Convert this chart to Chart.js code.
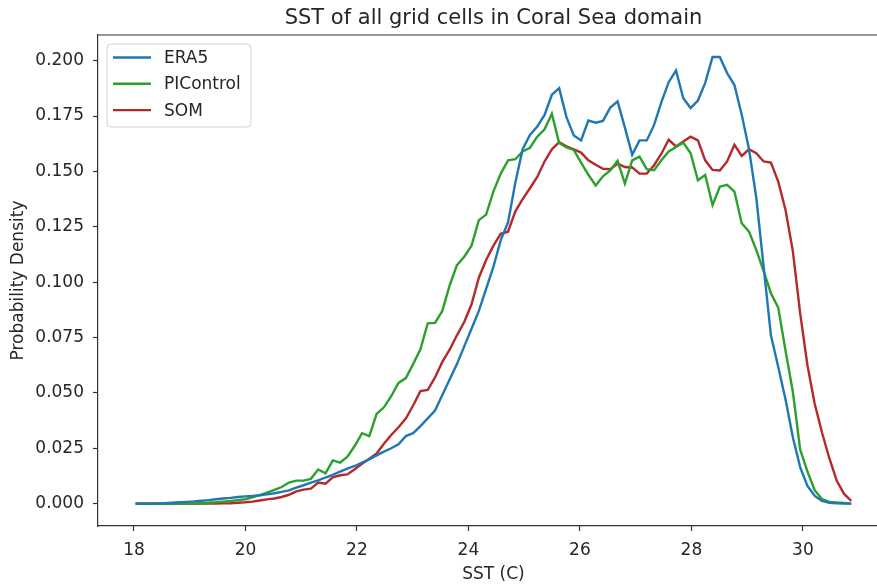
<!DOCTYPE html>
<html><head><meta charset="utf-8">
<script src="https://cdn.jsdelivr.net/npm/chart.js@4.4.1/dist/chart.umd.min.js"></script>
<style>
html,body{margin:0;padding:0;overflow:hidden;background:#fff;width:877px;height:585px}
#wrap{position:absolute;left:0;top:0;width:900px;height:585px}
</style>
</head><body><div id="wrap"><canvas id="c" width="900" height="585"></canvas></div>
<script>
// ---- data ----
const titleText = 'SST of all grid cells in Coral Sea domain';
const xTitle = 'SST (C)';
const yTitle = 'Probability Density';
const seriesNames = ['ERA5', 'PIControl', 'SOM'];
const xTicks = [18, 20, 22, 24, 26, 28, 30];
const yTicks = [0, 0.025, 0.05, 0.075, 0.1, 0.125, 0.15, 0.175, 0.2];

const sst = [18.030,18.161,18.292,18.423,18.554,18.685,18.816,18.947,19.078,19.209,
19.340,19.471,19.602,19.733,19.864,19.995,20.126,20.257,20.388,20.519,
20.650,20.781,20.912,21.043,21.174,21.305,21.436,21.567,21.698,21.829,
21.960,22.091,22.222,22.353,22.484,22.615,22.746,22.877,23.008,23.139,
23.270,23.401,23.532,23.663,23.794,23.925,24.056,24.187,24.318,24.449,
24.580,24.711,24.842,24.973,25.104,25.235,25.366,25.497,25.628,25.759,
25.890,26.021,26.152,26.283,26.414,26.545,26.676,26.807,26.938,27.069,
27.200,27.331,27.462,27.593,27.724,27.855,27.986,28.117,28.248,28.379,
28.510,28.641,28.772,28.903,29.034,29.165,29.296,29.427,29.558,29.689,
29.820,29.951,30.082,30.213,30.344,30.475,30.606,30.737,30.868];

const era5 = [0,0,0,0.0001,0.0002,0.0004,0.0006,0.0008,0.001,0.0013,
0.0016,0.002,0.0023,0.0026,0.003,0.0033,0.0035,0.0038,0.0042,0.0047,
0.0053,0.006,0.0072,0.0083,0.0095,0.0105,0.0118,0.013,0.0145,0.0158,
0.017,0.0185,0.02,0.0218,0.0235,0.025,0.0268,0.0305,0.0318,0.035,
0.0385,0.042,0.049,0.056,0.063,0.071,0.079,0.087,0.097,0.107,
0.119,0.127,0.145,0.16,0.1665,0.1703,0.1755,0.1846,0.1876,0.1745,
0.1662,0.164,0.173,0.172,0.1728,0.1788,0.1816,0.1698,0.1575,0.164,
0.164,0.171,0.1813,0.1903,0.1956,0.183,0.1786,0.182,0.19,0.2017,
0.2017,0.1944,0.189,0.1756,0.16,0.138,0.107,0.076,0.0617,0.047,
0.03,0.0165,0.008,0.0035,0.0012,0.0004,0.0001,0,0];

const piControl = [0,0,0,0,0,0,0,0,0,0.0002,
0.0004,0.0006,0.0009,0.0012,0.0016,0.002,0.0028,0.0038,0.005,0.0062,
0.0075,0.0095,0.0104,0.0104,0.0112,0.0154,0.0137,0.0195,0.0185,0.0212,
0.026,0.0318,0.0305,0.0405,0.0435,0.0485,0.0545,0.0567,0.063,0.0697,
0.0814,0.0816,0.087,0.0985,0.1077,0.1115,0.1165,0.128,0.1305,0.141,
0.149,0.155,0.1555,0.159,0.1607,0.1657,0.169,0.176,0.1628,0.1608,
0.1597,0.154,0.1485,0.1437,0.1478,0.1505,0.1548,0.1445,0.155,0.1567,
0.151,0.1505,0.155,0.159,0.161,0.163,0.1582,0.146,0.1484,0.1348,
0.1431,0.1439,0.1409,0.1266,0.1228,0.1145,0.105,0.095,0.0885,0.069,
0.0505,0.0245,0.0145,0.006,0.002,0.0008,0.0005,0.0003,0];

const som = [0,0,0,0,0,0,0,0,0,0,
0,0,0.0001,0.0002,0.0004,0.0006,0.0009,0.0014,0.0019,0.0023,
0.003,0.004,0.0055,0.0063,0.0068,0.0095,0.009,0.0119,0.0128,0.0132,
0.0155,0.018,0.0203,0.0226,0.027,0.031,0.0345,0.0384,0.0443,0.0508,
0.0513,0.057,0.064,0.0695,0.076,0.082,0.09,0.102,0.11,0.1165,
0.1218,0.1228,0.132,0.1375,0.1424,0.1475,0.1545,0.16,0.1632,0.1613,
0.16,0.1585,0.155,0.153,0.1512,0.151,0.1535,0.152,0.1518,0.149,
0.149,0.1528,0.158,0.1643,0.1613,0.1635,0.1657,0.164,0.155,0.1507,
0.1504,0.1545,0.162,0.157,0.16,0.1582,0.1545,0.154,0.1454,0.1326,
0.114,0.086,0.0625,0.045,0.032,0.0205,0.0104,0.0045,0.0012];

// ---- styling ----
const colors = ['#1f77b4', '#2ca02c', '#b5292a'];
const FONT = '"DejaVu Sans", "Liberation Sans", sans-serif';
const textColor = '#262626';
const axisColor = '#333333';

const seriesValues = [era5, piControl, som];
const datasets = seriesNames.map((name, k) => ({
  label: name,
  data: sst.map((x, i) => ({x: x, y: seriesValues[k][i]})),
  borderColor: colors[k],
  backgroundColor: colors[k],
  borderWidth: 2.4,
  pointRadius: 0,
  tension: 0,
  fill: false
}));

const framePlugin = {
  id: 'frame',
  afterDraw(chart) {
    const ctx = chart.ctx, ca = chart.chartArea;
    ctx.save();
    ctx.strokeStyle = axisColor; ctx.lineWidth = 1.2;
    ctx.beginPath();
    ctx.moveTo(ca.left, ca.top); ctx.lineTo(ca.right, ca.top); ctx.lineTo(ca.right, ca.bottom);
    ctx.stroke();
    ctx.font = '21px ' + FONT;
    ctx.fillStyle = textColor; ctx.textAlign = 'center'; ctx.textBaseline = 'alphabetic';
    ctx.fillText(titleText, (ca.left + ca.right) / 2, 24);
    const bx = 107, by = 44, bw = 144, bh = 83, r = 4;
    ctx.beginPath();
    ctx.moveTo(bx + r, by); ctx.lineTo(bx + bw - r, by); ctx.arcTo(bx + bw, by, bx + bw, by + r, r);
    ctx.lineTo(bx + bw, by + bh - r); ctx.arcTo(bx + bw, by + bh, bx + bw - r, by + bh, r);
    ctx.lineTo(bx + r, by + bh); ctx.arcTo(bx, by + bh, bx, by + bh - r, r);
    ctx.lineTo(bx, by + r); ctx.arcTo(bx, by, bx + r, by, r);
    ctx.closePath();
    ctx.fillStyle = 'rgba(255,255,255,0.85)'; ctx.fill();
    ctx.strokeStyle = '#d0d0d0'; ctx.lineWidth = 1; ctx.stroke();
    ctx.font = '17px ' + FONT; ctx.textAlign = 'left'; ctx.textBaseline = 'middle';
    chart.data.datasets.forEach((ds, k) => {
      const y = 57.5 + k * 26.3;
      ctx.strokeStyle = ds.borderColor; ctx.lineWidth = 2.4;
      ctx.beginPath(); ctx.moveTo(113, y); ctx.lineTo(151, y); ctx.stroke();
      ctx.fillStyle = textColor;
      ctx.fillText(ds.label, 164, y + 1);
    });
    ctx.restore();
  }
};

new Chart(document.getElementById('c'), {
  type: 'line',
  data: { datasets },
  options: {
    responsive: false,
    devicePixelRatio: 1,
    animation: false,
    layout: { padding: { top: 35, right: 11, left: 0, bottom: 0 } },
    plugins: { legend: { display: false }, title: { display: false }, tooltip: { enabled: false } },
    scales: {
      x: {
        type: 'linear', min: 17.355, max: 31.545,
        afterBuildTicks: s => { s.ticks = xTicks.map(v => ({ value: v })); },
        afterFit: s => { s.height = 59; },
        ticks: { font: { family: FONT, size: 17 }, color: textColor, padding: 9, maxRotation: 0,
                 callback: v => String(v) },
        grid: { drawOnChartArea: false, drawTicks: true, tickLength: 5, color: axisColor, tickWidth: 1.2 },
        border: { display: true, color: axisColor, width: 1.2 },
        title: { display: true, text: xTitle, color: textColor, font: { family: FONT, size: 17 },
                 padding: { top: 0, bottom: 0 } }
      },
      y: {
        type: 'linear', min: -0.0101, max: 0.2116,
        afterBuildTicks: s => { s.ticks = yTicks.map(v => ({ value: v })); },
        afterFit: s => { s.width = 98; },
        ticks: { font: { family: FONT, size: 17 }, color: textColor, padding: 9,
                 callback: v => Number(v).toFixed(3) },
        grid: { drawOnChartArea: false, drawTicks: true, tickLength: 5, color: axisColor, tickWidth: 1.2 },
        border: { display: true, color: axisColor, width: 1.2 },
        title: { display: true, text: yTitle, color: textColor, font: { family: FONT, size: 17 },
                 padding: { top: 8, bottom: 0 } }
      }
    }
  },
  plugins: [framePlugin]
});
</script>
</body></html>
